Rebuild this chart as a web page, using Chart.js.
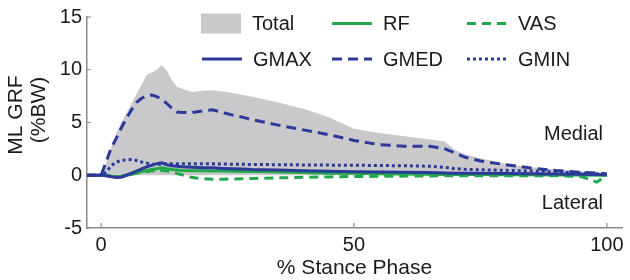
<!DOCTYPE html>
<html>
<head>
<meta charset="utf-8">
<script src="https://cdn.jsdelivr.net/npm/chart.js@4.4.1/dist/chart.umd.min.js"></script>
<style>
  html, body { margin: 0; padding: 0; background: #fff; }
  #wrap { width: 630px; height: 280px; }
</style>
</head>
<body>
<div id="wrap"><canvas id="grf"></canvas></div>
<script>
// % stance phase sample points
const stance = [-3, 0, 1, 2, 3, 4, 5, 6, 7, 8, 9, 10, 11, 12, 13, 14, 15, 16, 18, 20, 22, 24, 26, 28, 30,
                35, 40, 45, 50, 55, 60, 65, 68, 70, 72, 75, 80, 85, 90, 95, 98, 100];

// ML GRF (%BW)
const total = [0, 0, 1.2, 2.6, 4.0, 5.0, 5.9, 6.8, 7.7, 8.6, 9.5, 9.75, 10.0, 10.45, 9.9, 9.0, 8.4, 8.2, 7.9, 8.0, 8.05, 7.95, 7.8, 7.6, 7.45,
               6.9, 6.3, 5.5, 4.4, 4.0, 3.7, 3.4, 3.2, 2.4, 2.0, 1.6, 1.1, 0.75, 0.58, 0.35, 0.1, 0];
const gmax  = [0, 0, -0.05, -0.15, -0.22, -0.18, 0, 0.2, 0.4, 0.6, 0.8, 0.95, 1.1, 1.18, 1.0, 0.9, 0.85, 0.8, 0.75, 0.72, 0.7, 0.65, 0.62, 0.6, 0.55,
               0.5, 0.42, 0.38, 0.32, 0.3, 0.28, 0.25, 0.22, 0.2, 0.2, 0.18, 0.16, 0.15, 0.12, 0.1, 0.08, 0.05];
const rf    = [0, 0, 0, -0.1, -0.15, -0.1, 0, 0.1, 0.22, 0.35, 0.45, 0.55, 0.62, 0.7, 0.62, 0.55, 0.5, 0.45, 0.42, 0.42, 0.4, 0.4, 0.38, 0.36, 0.35,
               0.3, 0.25, 0.2, 0.18, 0.15, 0.12, 0.1, 0.08, 0.08, 0.07, 0.06, 0.05, 0.04, 0.03, 0.02, 0.01, 0];
const vas   = [0, 0, 0, -0.1, -0.15, -0.1, 0, 0.1, 0.2, 0.3, 0.35, 0.4, 0.45, 0.45, 0.4, 0.3, 0.15, 0.05, -0.22, -0.33, -0.37, -0.37, -0.35, -0.32, -0.3,
               -0.25, -0.2, -0.16, -0.12, -0.1, -0.08, -0.06, -0.05, -0.05, -0.05, -0.05, -0.05, -0.05, -0.05, -0.12, -0.65, 0];
const gmed  = [0, 0, 1.3, 2.6, 3.5, 4.5, 5.4, 6.2, 6.9, 7.3, 7.55, 7.6, 7.45, 7.2, 6.8, 6.35, 6.0, 5.95, 5.95, 6.1, 6.2, 5.95, 5.7, 5.5, 5.25,
               4.75, 4.3, 3.85, 3.3, 2.9, 2.75, 2.75, 2.5, 2.1, 1.7, 1.35, 1.0, 0.68, 0.45, 0.28, 0.2, 0.15];
const gmin  = [0, 0, 0.3, 0.9, 1.25, 1.4, 1.45, 1.5, 1.4, 1.25, 1.15, 1.05, 1.0, 1.05, 1.1, 1.1, 1.1, 1.1, 1.1, 1.1, 1.08, 1.06, 1.05, 1.04, 1.02,
               1.0, 0.98, 0.96, 0.95, 0.92, 0.9, 0.85, 0.75, 0.62, 0.56, 0.52, 0.47, 0.4, 0.3, 0.2, 0.15, 0.1];

const xTicks = [0, 50, 100];
const yTicks = [-5, 0, 5, 10, 15];

const BLUE = '#2b3a98';
const GREEN = '#22a84a';
const GRAY = '#c9c9cb';
const TEXT = '#1a1a1a';
const FONT = '"Liberation Sans", Arial, Helvetica, sans-serif';

const toPoints = ys => stance.map((x, i) => ({ x: x, y: ys[i] }));

const lineSet = (label, ys, color, dash, order) => ({
  label: label,
  data: toPoints(ys),
  borderColor: color,
  borderWidth: 3,
  borderDash: dash,
  borderCapStyle: 'butt',
  pointRadius: 0,
  tension: 0,
  fill: false,
  order: order
});

// legend slots: [column x, row y] per dataset label
const legendSlots = {
  'Total': [201, 23.5], 'RF': [332, 23.5], 'VAS': [467, 23.5],
  'GMAX': [202, 59], 'GMED': [332, 59], 'GMIN': [467, 59]
};

const decorations = {
  id: 'decorations',
  beforeDatasetsDraw(chart) {
    const { ctx, scales: { x, y } } = chart;
    ctx.save();
    ctx.strokeStyle = '#8a8a8a';
    ctx.lineWidth = 1.2;
    ctx.beginPath();
    xTicks.forEach(v => {
      const px = x.getPixelForValue(v);
      ctx.moveTo(px, y.bottom); ctx.lineTo(px, y.bottom - 5);
    });
    yTicks.forEach(v => {
      const py = y.getPixelForValue(v);
      ctx.moveTo(x.left, py); ctx.lineTo(x.left + 4, py);
    });
    ctx.stroke();
    ctx.restore();
  },
  afterDraw(chart) {
    const ctx = chart.ctx;
    ctx.save();
    ctx.font = '20px ' + FONT;
    ctx.fillStyle = TEXT;
    ctx.textBaseline = 'middle';

    chart.data.datasets.forEach(ds => {
      const [lx, ly] = legendSlots[ds.label];
      if (ds.fill) {
        ctx.fillStyle = ds.backgroundColor;
        ctx.fillRect(lx, ly - 10, 40, 20);
      } else {
        ctx.strokeStyle = ds.borderColor;
        ctx.lineWidth = ds.borderWidth;
        ctx.setLineDash(ds.borderDash);
        ctx.beginPath();
        ctx.moveTo(lx, ly); ctx.lineTo(lx + 40, ly);
        ctx.stroke();
        ctx.setLineDash([]);
      }
      ctx.fillStyle = TEXT;
      ctx.textAlign = 'left';
      ctx.fillText(ds.label, lx + 51, ly + 1);
    });

    ctx.textAlign = 'right';
    ctx.fillText('Medial', 603, 134);
    ctx.fillText('Lateral', 603, 203);

    // y axis title, two lines
    ctx.font = '21px ' + FONT;
    ctx.textAlign = 'center';
    ctx.save();
    ctx.translate(16, 115); ctx.rotate(-Math.PI / 2);
    ctx.fillText('ML GRF', 0, 0);
    ctx.restore();
    ctx.save();
    ctx.translate(39, 110); ctx.rotate(-Math.PI / 2);
    ctx.fillText('(%BW)', 0, 0);
    ctx.restore();
    ctx.restore();
  }
};

new Chart(document.getElementById('grf'), {
  type: 'line',
  data: {
    datasets: [
      {
        label: 'Total',
        data: toPoints(total),
        borderWidth: 0,
        borderColor: GRAY,
        backgroundColor: GRAY,
        pointRadius: 0,
        tension: 0,
        fill: 'origin',
        order: 7
      },
      lineSet('RF', rf, GREEN, [], 5),
      lineSet('VAS', vas, GREEN, [9, 6], 6),
      lineSet('GMAX', gmax, BLUE, [], 1),
      lineSet('GMED', gmed, BLUE, [10, 6], 3),
      lineSet('GMIN', gmin, BLUE, [3, 3], 2)
    ]
  },
  options: {
    responsive: true,
    maintainAspectRatio: false,
    animation: false,
    layout: { padding: { top: 14, right: 8, left: 0, bottom: 0 } },
    plugins: {
      legend: { display: false },
      tooltip: { enabled: false }
    },
    scales: {
      x: {
        type: 'linear',
        min: -2.8,
        max: 103,
        afterBuildTicks: s => { s.ticks = xTicks.map(v => ({ value: v })); },
        afterFit: s => { s.height = 52; },
        grid: { display: false, drawTicks: false },
        border: { display: true, color: '#8a8a8a', width: 1.5 },
        ticks: { color: TEXT, padding: 5, maxRotation: 0, font: { family: FONT, size: 20 } },
        title: {
          display: true,
          text: '% Stance Phase',
          color: TEXT,
          padding: { top: 0, bottom: 1 },
          font: { family: FONT, size: 21, lineHeight: 1 }
        }
      },
      y: {
        min: -5,
        max: 15,
        afterBuildTicks: s => { s.ticks = yTicks.map(v => ({ value: v })); },
        afterFit: s => { s.width = 87; },
        grid: { display: false, drawTicks: false },
        border: { display: true, color: '#8a8a8a', width: 1.5 },
        ticks: { color: TEXT, padding: 5, font: { family: FONT, size: 20 } }
      }
    }
  },
  plugins: [decorations]
});
</script>
</body>
</html>
